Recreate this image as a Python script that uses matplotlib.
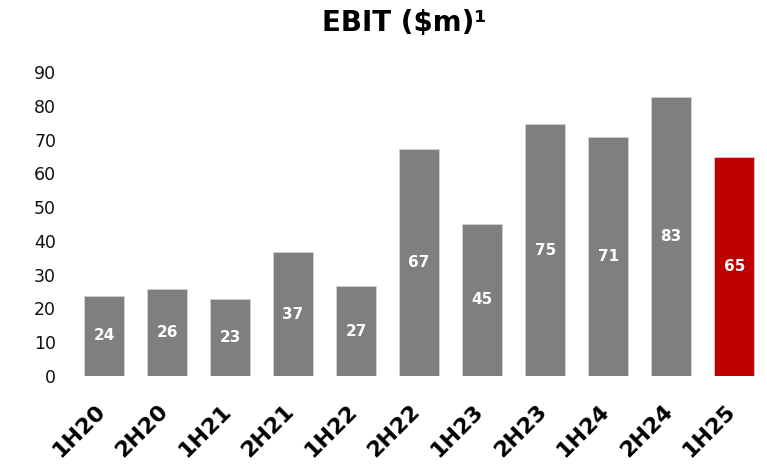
import matplotlib
matplotlib.use("Agg")
import matplotlib.pyplot as plt

plt.rcParams['font.family'] = ['DejaVu Sans']

periods = ["1H20", "2H20", "1H21", "2H21", "1H22", "2H22", "1H23", "2H23", "1H24", "2H24", "1H25"]
ebit = [23.7, 25.7, 22.9, 36.6, 26.6, 67.3, 45.1, 74.6, 70.9, 82.6, 64.8]
labels = ["24", "26", "23", "37", "27", "67", "45", "75", "71", "83", "65"]
colors = ["#7f7f7f"] * 10 + ["#c00000"]

fig = plt.figure(figsize=(7.67, 4.75), dpi=100)
ax = fig.add_axes([0.0913, 0.2084, 0.8997, 0.64])

x = list(range(len(periods)))
bars = ax.bar(x, ebit, width=0.635, color=colors, edgecolor="#d0d0d0", linewidth=0.6)

# value labels in the middle of each bar
for b, lab in zip(bars, labels):
    ax.text(b.get_x() + b.get_width() / 2, b.get_height() / 2, lab,
            ha="center", va="center", color="white", fontsize=11, fontweight="bold")

ax.set_xlim(-0.54, 10.41)
ax.set_ylim(0, 90)
ax.set_yticks(range(0, 91, 10))
ax.set_xticks(x)
ax.set_xticklabels([])
# rotated period labels, placed by hand so they can be nudged left
for i, p in zip(x, periods):
    ax.annotate(p, xy=(i, 0), xytext=(-6.5, -18), textcoords="offset points",
                rotation=45, rotation_mode="anchor", ha="right", va="top",
                fontsize=16, fontweight="bold", annotation_clip=False)
ax.tick_params(axis="y", labelsize=12.5, length=0, pad=10, labelcolor="#111111")
ax.tick_params(axis="x", length=0)
for s in ax.spines.values():
    s.set_visible(False)

fig.text(0.527, 0.951, "EBIT ($m)¹", ha="center", va="center", fontsize=20, fontweight="bold")

fig.savefig("out.png", dpi=100)
